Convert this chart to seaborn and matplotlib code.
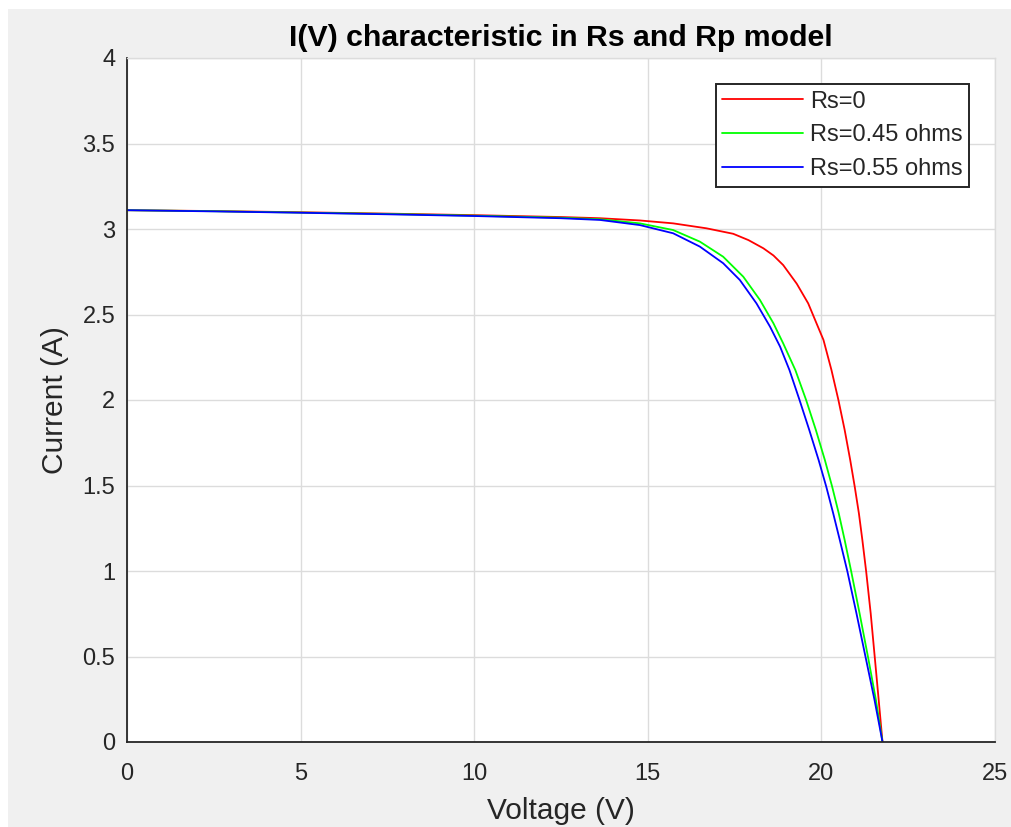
import matplotlib
matplotlib.use("Agg")
import matplotlib.pyplot as plt
import seaborn as sns
import pandas as pd
from matplotlib.patches import Rectangle

# ---- data ----
red_v = [0, 2.5, 5, 7.5, 10, 12.5, 13.62, 14.77, 15.73, 16.69, 17.46, 17.9, 18.33, 18.62, 18.90,
         19.29, 19.62, 19.86, 20.06, 20.29, 20.49, 20.67, 20.83, 20.96, 21.08, 21.18, 21.29,
         21.42, 21.54, 21.65, 21.76]
red_i = [3.11, 3.105, 3.098, 3.09, 3.081, 3.07, 3.063, 3.05, 3.033, 3.004, 2.972, 2.935, 2.887,
         2.845, 2.789, 2.68, 2.565, 2.448, 2.351, 2.175, 2.0, 1.825, 1.649, 1.493, 1.337,
         1.181, 0.996, 0.752, 0.489, 0.246, 0.0]

green_v = [0, 2.5, 5, 7.5, 10, 12.5, 13.62, 14.77, 15.73, 16.50, 17.17, 17.75, 18.23, 18.62,
           18.90, 19.25, 19.56, 19.84, 20.10, 20.31, 20.50, 20.67, 20.86, 21.10, 21.35,
           21.57, 21.76]
green_i = [3.11, 3.104, 3.096, 3.088, 3.078, 3.066, 3.057, 3.033, 2.994, 2.926, 2.838, 2.721,
           2.585, 2.448, 2.331, 2.175, 2.0, 1.825, 1.649, 1.493, 1.337, 1.181, 0.996, 0.752,
           0.489, 0.246, 0.0]

blue_v = [0, 2.5, 5, 7.5, 10, 12.5, 13.62, 14.77, 15.73, 16.50, 17.17, 17.65, 18.13, 18.52,
          18.81, 19.08, 19.37, 19.65, 19.92, 20.14, 20.34, 20.53, 20.75, 21.01, 21.28,
          21.53, 21.76]
blue_i = [3.11, 3.103, 3.095, 3.086, 3.076, 3.063, 3.053, 3.023, 2.975, 2.897, 2.80, 2.702,
          2.565, 2.429, 2.312, 2.175, 2.0, 1.825, 1.649, 1.493, 1.337, 1.181, 0.996, 0.752,
          0.489, 0.246, 0.0]

series_names = ["Rs=0", "Rs=0.45 ohms", "Rs=0.55 ohms"]
series_colors = ["#FF0000", "#00FF00", "#0000FF"]

x_ticks = [0, 5, 10, 15, 20, 25]
x_tick_labels = ["0", "5", "10", "15", "20", "25"]
y_ticks = [0, 0.5, 1, 1.5, 2, 2.5, 3, 3.5, 4]
y_tick_labels = ["0", "0.5", "1", "1.5", "2", "2.5", "3", "3.5", "4"]

title_text = "I(V) characteristic in Rs and Rp model"
x_label = "Voltage (V)"
y_label = "Current (A)"

# ---- build table ----
frames = []
for name, v, i in zip(series_names, [red_v, green_v, blue_v], [red_i, green_i, blue_i]):
    frames.append(pd.DataFrame({"V": v, "I": i, "series": name}))
df = pd.concat(frames, ignore_index=True)

sns.set_style("white")
plt.rcParams["font.family"] = ["Liberation Sans", "DejaVu Sans"]

W, H = 1011, 827
fig = plt.figure(figsize=(W / 100, H / 100), dpi=100)
fig.patch.set_facecolor("white")
fig.patches.append(Rectangle((8 / W, 0), 1 - 8 / W, 1 - 9 / H, transform=fig.transFigure,
                             facecolor="#F0F0F0", edgecolor="none", zorder=-10))

ax = fig.add_axes([127 / W, (H - 742) / H, (995 - 127) / W, (742 - 58) / H])
ax.set_facecolor("white")

sns.lineplot(data=df, x="V", y="I", hue="series", palette=dict(zip(series_names, series_colors)),
             sort=False, estimator=None, linewidth=1.3, ax=ax)

ax.set_xlim(0, 25)
ax.set_ylim(0, 4)
ax.set_xticks(x_ticks)
ax.set_xticklabels(x_tick_labels)
ax.set_yticks(y_ticks)
ax.set_yticklabels(y_tick_labels)

txt_col = "#262626"
ax.tick_params(axis="both", direction="in", length=5, width=1.2, colors=txt_col,
               labelsize=17)
ax.tick_params(axis="x", pad=15)
ax.tick_params(axis="y", pad=8.5)
ax.grid(True, color="#DCDCDC", linewidth=1.0)
ax.set_axisbelow(True)
for s in ["left", "bottom"]:
    ax.spines[s].set_color(txt_col)
    ax.spines[s].set_linewidth(1.3)
for s in ["top", "right"]:
    ax.spines[s].set_color("#DCDCDC")
    ax.spines[s].set_linewidth(1.0)

ax.set_xlabel(x_label, fontsize=21.5, color=txt_col, labelpad=9)
ax.set_ylabel(y_label, fontsize=21.5, color=txt_col, labelpad=10)
ax.set_title(title_text, fontsize=21.8, fontweight="bold", color="black", pad=9)

leg = ax.legend(loc="upper right", fontsize=17, frameon=True, fancybox=False,
                edgecolor=txt_col, framealpha=1, borderaxespad=1.1, handlelength=3.4,
                labelspacing=0.5, borderpad=0.28, handletextpad=0.3)
leg.get_frame().set_linewidth(1.4)
for t in leg.get_texts():
    t.set_color(txt_col)

fig.savefig("out.png", dpi=100, facecolor=fig.get_facecolor())
